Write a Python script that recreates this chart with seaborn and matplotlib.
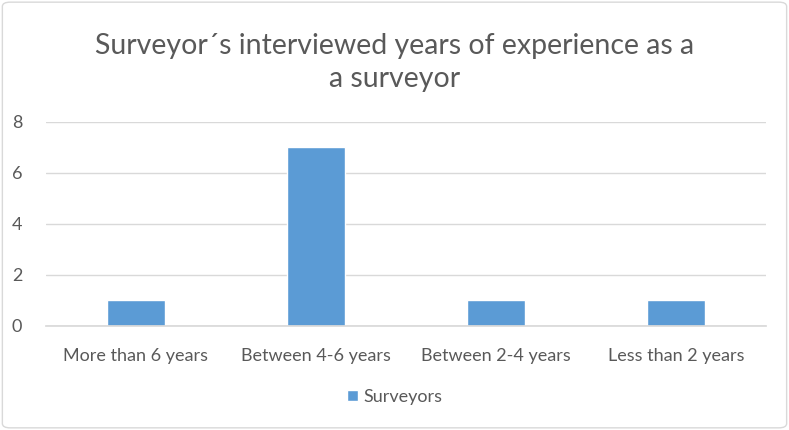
import matplotlib
matplotlib.use("Agg")
import matplotlib.pyplot as plt
from matplotlib.patches import FancyBboxPatch
import seaborn as sns
import pandas as pd

categories = ["More than 6 years", "Between 4-6 years", "Between 2-4 years", "Less than 2 years"]
surveyors = [1, 7, 1, 1]
yticks = [0, 2, 4, 6, 8]
series_name = "Surveyors"
title = "Surveyor\u00b4s interviewed years of experience as a\na surveyor"

sns.set_theme(style="white")
plt.rcParams["font.family"] = ["Lato", "DejaVu Sans"]

text_color = "#595959"
bar_color = "#5b9bd5"

df = pd.DataFrame({"category": categories, "count": surveyors, "series": series_name})

fig = plt.figure(figsize=(7.89, 4.30), dpi=100)
ax = fig.add_axes([0.058, 0.2419, 0.913, 0.4744])

sns.barplot(data=df, x="category", y="count", hue="series", palette=[bar_color],
            width=0.32, ax=ax, legend=True, saturation=1)

ax.set_ylim(0, 8)
ax.set_yticks(yticks)
ax.set_xlim(-0.5, len(categories) - 0.5)
ax.yaxis.grid(True, color="#d9d9d9", linewidth=1)
ax.set_axisbelow(True)
for side in ["top", "right", "left"]:
    ax.spines[side].set_visible(False)
ax.spines["bottom"].set_color("#d9d9d9")
ax.set_xlabel("")
ax.set_ylabel("")
ax.tick_params(axis="both", colors=text_color, labelsize=13, length=0)
ax.tick_params(axis="x", pad=16)
ax.tick_params(axis="y", pad=17)

handles, labels = ax.get_legend_handles_labels()
ax.legend_.remove()
fig.legend(handles, labels, loc="center", bbox_to_anchor=(0.5, 0.077), frameon=False,
           fontsize=13, labelcolor=text_color, handlelength=0.6, handleheight=0.6,
           handletextpad=0.3)

fig.text(0.5, 0.855, title, ha="center", va="center", fontsize=20.5, color=text_color,
         linespacing=1.35)

border = FancyBboxPatch((0.003, 0.005), 0.994, 0.99, boxstyle="round,pad=0,rounding_size=0.01",
                        transform=fig.transFigure, fill=False, edgecolor="#d9d9d9", linewidth=1)
fig.patches.append(border)

fig.savefig("out.png", dpi=100)
